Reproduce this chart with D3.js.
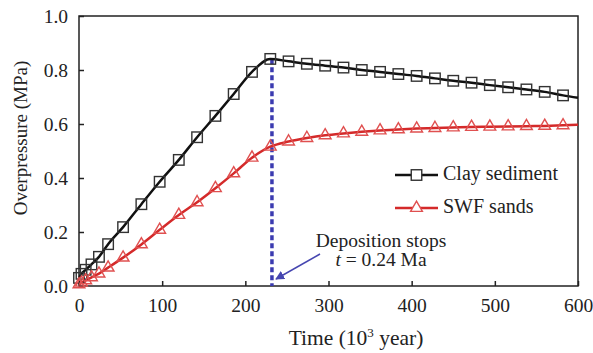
<!DOCTYPE html>
<meta charset="utf-8">
<style>
body { margin: 0; background: #fff; }
svg { font-family: "Liberation Serif", "Times New Roman", serif; }
</style>
<body>
<svg width="593" height="353"></svg>
<script src="https://d3js.org/d3.v7.min.js"></script>
<script>
// time in 10^3 year, overpressure in MPa
var time = [0, 3, 8, 15, 24, 35, 53, 75, 97, 120, 142, 164, 186, 208, 230, 252, 274, 296, 318, 340, 362, 384, 406, 428, 450, 472, 494, 516, 538, 560, 582];
var clay = [0.030, 0.045, 0.060, 0.080, 0.108, 0.155, 0.218, 0.303, 0.386, 0.467, 0.551, 0.630, 0.711, 0.793, 0.841, 0.832, 0.823, 0.816, 0.809, 0.800, 0.793, 0.785, 0.778, 0.769, 0.760, 0.753, 0.744, 0.736, 0.728, 0.719, 0.706];
var swf = [0.006, 0.012, 0.021, 0.032, 0.046, 0.068, 0.105, 0.154, 0.208, 0.263, 0.310, 0.362, 0.417, 0.475, 0.516, 0.535, 0.548, 0.558, 0.565, 0.571, 0.576, 0.580, 0.583, 0.585, 0.587, 0.589, 0.590, 0.591, 0.592, 0.593, 0.595];
// where the model curves end at the right edge
var endTime = 600, clayEnd = 0.697, swfEnd = 0.597;
var xTicks = [0, 100, 200, 300, 400, 500, 600];
var yTicks = [0, 0.2, 0.4, 0.6, 0.8, 1.0];
var stopTime = 232, stopTop = 0.84;

var svg = d3.select("svg"),
    margin = {top: 16, right: 15, bottom: 67, left: 79},
    width = +svg.attr("width") - margin.left - margin.right,
    height = +svg.attr("height") - margin.top - margin.bottom,
    g = svg.append("g").attr("transform", "translate(" + margin.left + "," + margin.top + ")");

var x = d3.scaleLinear().domain([0, 600]).range([0, width]);
var y = d3.scaleLinear().domain([0, 1]).range([height, 0]);

// axes, ticks pointing inward
g.append("g")
    .attr("transform", "translate(0," + height + ")")
    .call(d3.axisBottom(x).tickValues(xTicks).tickSize(-5).tickPadding(12).tickFormat(d3.format("d")));
g.append("g")
    .call(d3.axisLeft(y).tickValues(yTicks).tickSize(-5).tickPadding(11).tickFormat(d3.format(".1f")));
g.selectAll(".domain").remove();
g.selectAll(".tick line").attr("stroke", "#222").attr("stroke-width", 1.5);
g.selectAll(".tick text").attr("fill", "#222").style("font-size", "19.5px").style("font-family", "Liberation Serif");

g.append("rect")
    .attr("width", width).attr("height", height)
    .attr("fill", "none").attr("stroke", "#222").attr("stroke-width", 1.5);

var clayPts = time.map(function(t, i) { return [t, clay[i]]; });
var swfPts = time.map(function(t, i) { return [t, swf[i]]; });

var line = d3.line()
    .x(function(d) { return x(d[0]); })
    .y(function(d) { return y(d[1]); })
    .curve(d3.curveMonotoneX);

// deposition stops marker
g.append("line")
    .attr("x1", x(stopTime)).attr("x2", x(stopTime))
    .attr("y1", y(stopTop)).attr("y2", y(0))
    .attr("stroke", "#3b3bb0").attr("stroke-width", 3.5)
    .attr("stroke-dasharray", "5,3");

g.append("path")
    .datum(swfPts.concat([[endTime, swfEnd]]))
    .attr("fill", "none").attr("stroke", "#d42a2a").attr("stroke-width", 2.5)
    .attr("d", line);
g.append("path")
    .datum(clayPts.concat([[endTime, clayEnd]]))
    .attr("fill", "none").attr("stroke", "#111").attr("stroke-width", 2.5)
    .attr("d", line);

var sq = 10.5;
g.selectAll(".sq").data(clayPts).enter().append("rect")
    .attr("x", function(d) { return x(d[0]) - sq / 2; })
    .attr("y", function(d) { return y(d[1]) - sq / 2; })
    .attr("width", sq).attr("height", sq)
    .attr("fill", "none").attr("stroke", "#333").attr("stroke-width", 1.4);

var tri = d3.symbol().type(d3.symbolTriangle).size(60);
g.selectAll(".tri").data(swfPts).enter().append("path")
    .attr("transform", function(d) { return "translate(" + x(d[0]) + "," + y(d[1]) + ")"; })
    .attr("d", tri)
    .attr("fill", "none").attr("stroke", "#e05050").attr("stroke-width", 1.4);

// legend
var legend = [
  {name: "Clay sediment", color: "#111", mark: "#333", sym: "sq", y: 175},
  {name: "SWF sands", color: "#d42a2a", mark: "#e05050", sym: "tri", y: 208}
];
legend.forEach(function(l) {
  svg.append("line")
      .attr("x1", 395).attr("x2", 438).attr("y1", l.y).attr("y2", l.y)
      .attr("stroke", l.color).attr("stroke-width", 2.5);
  if (l.sym === "sq") {
    svg.append("rect").attr("x", 416.5 - sq / 2).attr("y", l.y - sq / 2)
        .attr("width", sq).attr("height", sq)
        .attr("fill", "#fff").attr("stroke", l.mark).attr("stroke-width", 1.4);
  } else {
    svg.append("path").attr("transform", "translate(416.5," + l.y + ")")
        .attr("d", tri).attr("fill", "#fff").attr("stroke", l.mark).attr("stroke-width", 1.4);
  }
  svg.append("text").attr("x", 443).attr("y", l.y + 5)
      .style("font-size", "20px").attr("fill", "#222").text(l.name);
});

// annotation
svg.append("text").attr("x", 381).attr("y", 247).attr("text-anchor", "middle")
    .style("font-size", "19.5px").attr("fill", "#222").text("Deposition stops");
var t2 = svg.append("text").attr("x", 381).attr("y", 266).attr("text-anchor", "middle")
    .style("font-size", "19.5px").attr("fill", "#222");
t2.append("tspan").style("font-style", "italic").text("t");
t2.append("tspan").text(" = 0.24 Ma");

svg.append("defs").append("marker")
    .attr("id", "arr").attr("viewBox", "0 0 10 10").attr("refX", 9).attr("refY", 5)
    .attr("markerWidth", 9).attr("markerHeight", 9).attr("orient", "auto")
    .attr("markerUnits", "userSpaceOnUse")
  .append("path").attr("d", "M0,0 L10,5 L0,10 z").attr("fill", "#4646b0");
svg.append("line")
    .attr("x1", 320).attr("y1", 254).attr("x2", 276).attr("y2", 279)
    .attr("stroke", "#4646b0").attr("stroke-width", 1.5)
    .attr("marker-end", "url(#arr)");

// axis titles
var tx = svg.append("text").attr("x", 356).attr("y", 345).attr("text-anchor", "middle")
    .style("font-size", "21.5px").attr("fill", "#222");
tx.append("tspan").text("Time (10");
tx.append("tspan").attr("dy", -8).style("font-size", "13px").text("3");
tx.append("tspan").attr("dy", 8).text(" year)");

svg.append("text")
    .attr("transform", "translate(27,138) rotate(-90)")
    .attr("text-anchor", "middle")
    .style("font-size", "19px").attr("fill", "#222")
    .text("Overpressure (MPa)");
</script>
</body>
